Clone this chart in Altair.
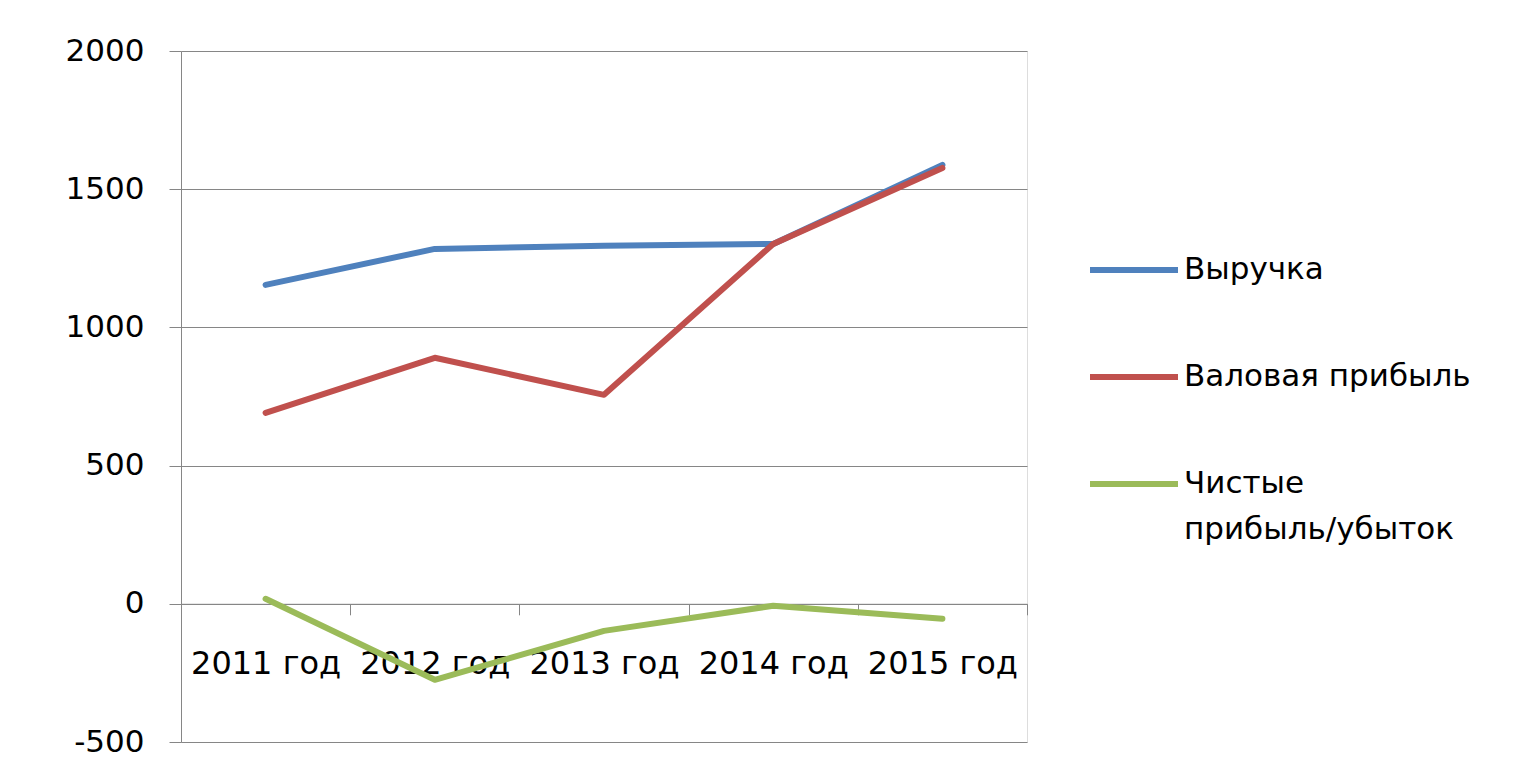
import altair as alt
import pandas as pd

years = ["2011 год", "2012 год", "2013 год", "2014 год", "2015 год"]
series = ["Выручка", "Валовая прибыль", "Чистые прибыль/убыток"]
revenue = [1154, 1284, 1295, 1302, 1588]
gross_profit = [691, 890, 756, 1302, 1577]
net_profit = [18, -275, -98, -7, -54]
colors = ["#4F81BD", "#C0504D", "#9BBB59"]
y_ticks = [-500, 0, 500, 1000, 1500, 2000]

rows = []
for name, vals in zip(series, [revenue, gross_profit, net_profit]):
    for i, (yr, v) in enumerate(zip(years, vals)):
        rows.append({"year": yr, "series": name, "value": v, "order": series.index(name)})
df = pd.DataFrame(rows)

W, H = 846, 691
zero_offset = -(0 - (-500)) / 2500 * H

chart = alt.Chart(df).mark_line(strokeWidth=6, strokeCap="round", strokeJoin="round").encode(
    x=alt.X("year:N", sort=years, bandPosition=0.5,
            scale=alt.Scale(type="band", paddingInner=0, paddingOuter=0),
            axis=alt.Axis(title=None, labelAngle=0, offset=zero_offset, tickBand="extent",
                          domainColor="#868686", tickColor="#868686", tickSize=11,
                          labelFont="DejaVu Sans", labelFontSize=32, labelColor="#000000",
                          labelPadding=34, grid=False)),
    y=alt.Y("value:Q", scale=alt.Scale(domain=[-500, 2000], nice=False),
            axis=alt.Axis(title=None, values=y_ticks, grid=True, gridColor="#868686",
                          domainColor="#868686", tickColor="#868686", tickSize=12,
                          labelFont="DejaVu Sans", labelFontSize=31, labelColor="#000000",
                          labelPadding=25, labelExpr="'' + datum.value")),
    color=alt.Color("series:N", sort=series,
                    scale=alt.Scale(domain=series, range=colors),
                    legend=alt.Legend(title=None, orient="none", legendX=906, legendY=172,
                                      symbolType="stroke", symbolSize=7744, symbolStrokeWidth=6,
                                      labelFont="DejaVu Sans", labelFontSize=31, labelColor="#000000",
                                      labelOffset=3, rowPadding=45, padding=0, labelLimit=400,
                                      labelBaseline="middle",
                                      labelExpr="datum.label == 'Чистые прибыль/убыток' ? ['Чистые', 'прибыль/убыток'] : datum.label")),
    order="order:Q",
).properties(
    width=W, height=H,
    autosize=alt.AutoSizeParams(type="none"),
    padding={"left": 173, "top": 43, "right": 498, "bottom": 30},
).configure_view(stroke=None).configure(
    background="#ffffff",
    style={"guide-label": {"lineHeight": 46}},
)

chart.save("out.html", embed_options={"renderer": "svg", "actions": False})
